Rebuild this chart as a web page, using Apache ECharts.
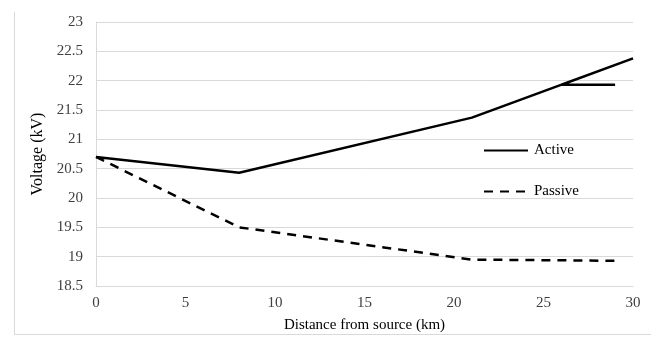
<!DOCTYPE html>
<html>
<head>
<meta charset="utf-8">
<script src="https://cdn.jsdelivr.net/npm/echarts@6/dist/echarts.min.js"></script>
<style>html,body{margin:0;padding:0;background:#fff;}#c{width:663px;height:340px;}</style>
</head>
<body>
<div id="c"></div>
<script>
var activeX = [0, 8, 21, 30, 26, 29];
var activeY = [20.7, 20.43, 21.37, 22.38, 21.93, 21.93];
var passiveX = [0, 8, 21, 29];
var passiveY = [20.7, 19.5, 18.95, 18.93];
var seriesNames = ['Active', 'Passive'];
var xTitle = 'Distance from source (km)';
var yTitle = 'Voltage (kV)';

function pairs(xs, ys) { return xs.map(function (x, i) { return [x, ys[i]]; }); }

var font = '"Liberation Serif", "Times New Roman", serif';
var chart = echarts.init(document.getElementById('c'), null, {renderer: 'canvas'});
chart.setOption({
  animation: false,
  backgroundColor: '#fff',
  textStyle: {fontFamily: font},
  grid: {left: 96, right: 30, top: 22, bottom: 54, containLabel: false},
  graphic: [
    {type: 'line', shape: {x1: 14.5, y1: 12, x2: 14.5, y2: 334.5}, style: {stroke: '#d9d9d9', lineWidth: 1}},
    {type: 'line', shape: {x1: 14, y1: 334.5, x2: 651, y2: 334.5}, style: {stroke: '#d9d9d9', lineWidth: 1}}
  ],
  legend: {
    orient: 'vertical', left: 483, top: 143, padding: 0, itemGap: 26,
    itemWidth: 44, itemHeight: 14,
    itemStyle: {opacity: 0},
    textStyle: {fontFamily: font, fontSize: 15, color: '#000', padding: [0, 0, 0, 1]},
    data: seriesNames
  },
  xAxis: {
    type: 'value', min: 0, max: 30, interval: 5,
    name: xTitle, nameLocation: 'middle', nameGap: 32,
    nameTextStyle: {fontFamily: font, fontSize: 15, color: '#000'},
    axisLine: {show: true, lineStyle: {color: '#d9d9d9'}},
    axisTick: {show: false},
    splitLine: {show: false},
    axisLabel: {fontFamily: font, fontSize: 15, color: '#404040', margin: 10}
  },
  yAxis: {
    type: 'value', min: 18.5, max: 23, interval: 0.5,
    name: yTitle, nameLocation: 'middle', nameGap: 44,
    nameTextStyle: {fontFamily: font, fontSize: 16, color: '#000'},
    axisLine: {show: true, lineStyle: {color: '#d9d9d9'}},
    axisTick: {show: false},
    splitLine: {show: true, lineStyle: {color: '#d9d9d9'}},
    axisLabel: {fontFamily: font, fontSize: 15, color: '#404040', margin: 13}
  },
  series: [
    {
      name: seriesNames[0], type: 'line', data: pairs(activeX, activeY),
      symbol: 'none', showSymbol: false,
      lineStyle: {color: '#000', width: 2.5, type: 'solid'},
      itemStyle: {color: '#000'}
    },
    {
      name: seriesNames[1], type: 'line', data: pairs(passiveX, passiveY),
      symbol: 'none', showSymbol: false,
      lineStyle: {color: '#000', width: 2.5, type: [9, 7]},
      itemStyle: {color: '#000'}
    }
  ]
});
</script>
</body>
</html>
